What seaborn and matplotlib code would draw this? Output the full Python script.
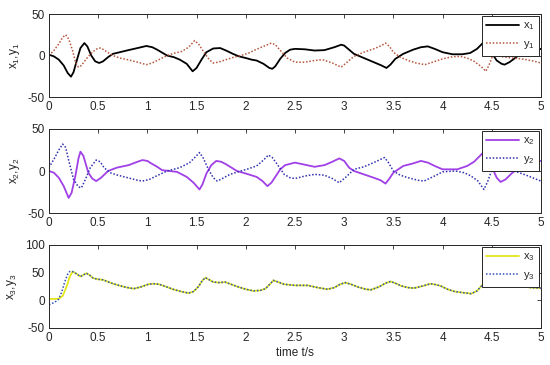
import matplotlib
matplotlib.use("Agg")
import matplotlib.pyplot as plt
import seaborn as sns
import pandas as pd

# ---- data ----
t_x1 = [0, 0.05, 0.1, 0.15, 0.19, 0.224, 0.25, 0.29, 0.32, 0.36, 0.39, 0.43, 0.47, 0.51, 0.55, 0.6,
        0.65, 0.72, 0.79, 0.9, 0.99, 1.05, 1.1, 1.2, 1.27, 1.33, 1.4, 1.46, 1.5, 1.55, 1.6, 1.67,
        1.74, 1.8, 1.87, 1.93, 2.0, 2.06, 2.11, 2.18, 2.24, 2.27, 2.3, 2.35, 2.4, 2.45, 2.5, 2.6,
        2.7, 2.8, 2.9, 2.97, 3.0, 3.05, 3.1, 3.2, 3.3, 3.38, 3.43, 3.47, 3.52, 3.6, 3.7, 3.78,
        3.85, 3.92, 4.0, 4.1, 4.2, 4.28, 4.35, 4.4, 4.43, 4.46, 4.5, 4.55, 4.6, 4.63, 4.68, 4.76,
        4.85, 4.92, 5.0]
x1 = [1, -1, -5, -12, -21, -25.5, -20, -3, 9, 15, 11, 0, -7, -9, -7, -2,
      2, 4, 6, 9, 11.5, 10, 7, 0, -2, -5, -10, -19, -15, -5, 4, 8.5,
      9, 6, 2, -1, -3, -5, -6, -10, -15, -16, -13, -4, 3, 7, 8, 7.5,
      6, 6.5, 10, 13, 12, 7, 2, -3, -8, -12, -15, -11, -4, 2, 7, 10,
      11, 8, 4, 1.5, 1.5, 3, 8, 14, 18, 14, 3, -6, -10, -11, -8, -1,
      4, 6, 8]

t_y1 = [0, 0.05, 0.1, 0.14, 0.17, 0.2, 0.24, 0.27, 0.3, 0.33, 0.38, 0.44, 0.5, 0.53, 0.58, 0.65,
        0.72, 0.8, 0.9, 0.99, 1.05, 1.1, 1.2, 1.28, 1.35, 1.42, 1.48, 1.52, 1.58, 1.63, 1.67, 1.72,
        1.8, 1.88, 1.95, 2.03, 2.1, 2.18, 2.26, 2.3, 2.36, 2.42, 2.5, 2.6, 2.7, 2.78, 2.88, 2.97,
        3.03, 3.1, 3.2, 3.3, 3.38, 3.42, 3.46, 3.5, 3.57, 3.65, 3.73, 3.82, 3.9, 4.0, 4.1, 4.18,
        4.25, 4.32, 4.39, 4.44, 4.47, 4.5, 4.53, 4.58, 4.7, 4.8, 4.9, 5.0]
y1 = [0, 6, 14, 22, 25, 20, 6, -8, -14, -12, -4, 4, 9, 9, 5, 0,
      -3, -5, -8, -11, -9, -6, 0, 3, 5, 10, 18, 14, 3, -5, -9, -8,
      -5, -2, 0, 3, 7, 11, 15, 13, 5, -3, -8, -8, -6, -5, -9, -14,
      -8, -1, 4, 8, 12, 15, 11, 4, -2, -6, -9, -11, -8, -4, -1.5, -1,
      -3, -7, -13, -19, -12, -3, 2, -1, -3, -4, -6, -9]

t_x2 = [0, 0.05, 0.1, 0.15, 0.2, 0.23, 0.27, 0.3, 0.32, 0.35, 0.4, 0.44, 0.48, 0.53, 0.6, 0.69,
        0.81, 0.9, 0.95, 1.0, 1.04, 1.1, 1.15, 1.3, 1.4, 1.47, 1.53, 1.56, 1.6, 1.65, 1.7, 1.75,
        1.8, 1.91, 2.0, 2.11, 2.17, 2.22, 2.26, 2.3, 2.35, 2.4, 2.5, 2.6, 2.7, 2.8, 2.88, 2.95,
        3.0, 3.05, 3.1, 3.2, 3.3, 3.37, 3.42, 3.46, 3.5, 3.6, 3.7, 3.78, 3.85, 3.92, 4.0, 4.15,
        4.25, 4.32, 4.38, 4.42, 4.46, 4.5, 4.55, 4.59, 4.64, 4.71, 4.8, 4.9, 5.0]
x2 = [0, -2, -8, -18, -32, -26, -5, 15, 23, 18, -2, -9, -12, -8, 0, 4,
      7, 11, 13, 12, 9, 5, 1, -1, -7, -14, -22, -16, -3, 7, 12, 11,
      8, 0, -3, -7, -12, -18, -14, -7, 2, 7, 10, 7.5, 5, 7, 11, 15,
      12, 4, 0, -4, -8, -11, -15, -9, -2, 6, 9, 12, 10, 6, 2, 2,
      6, 11, 18, 23, 17, 5, -8, -13, -10, -2, 5, 10, 12]

t_y2 = [0, 0.06, 0.1, 0.14, 0.17, 0.2, 0.25, 0.3, 0.33, 0.37, 0.42, 0.48, 0.52, 0.56, 0.62, 0.7,
        0.8, 0.9, 0.95, 1.02, 1.09, 1.2, 1.33, 1.43, 1.49, 1.53, 1.57, 1.62, 1.67, 1.71, 1.76, 1.84,
        1.92, 2.01, 2.11, 2.18, 2.23, 2.27, 2.32, 2.39, 2.45, 2.5, 2.6, 2.7, 2.8, 2.88, 2.95, 3.02,
        3.1, 3.2, 3.3, 3.41, 3.45, 3.5, 3.57, 3.65, 3.75, 3.81, 3.9, 4.0, 4.13, 4.22, 4.29, 4.36,
        4.42, 4.46, 4.49, 4.53, 4.6, 4.73, 4.85, 5.0]
y2 = [4, 16, 25, 32, 28, 13, -10, -19, -20, -10, 4, 13, 11, 4, -2, -5,
      -8, -11, -12, -10, -6, 0, 4, 10, 17, 22, 15, 2, -8, -12, -9, -4,
      -1, 2, 6, 13, 19, 16, 8, -4, -8, -9, -6, -4, -5, -9, -14, -7,
      2, 5, 10, 16, 10, 0, -5, -8, -11, -12, -7, -1, 0, -2, -6, -12,
      -22, -12, -2, 6, 3, 0, -5, -12]

t_x3 = [0, 0.05, 0.1, 0.14, 0.18, 0.21, 0.24, 0.28, 0.32, 0.35, 0.38, 0.41, 0.45, 0.5, 0.55, 0.62,
        0.69, 0.77, 0.86, 0.93, 1.01, 1.06, 1.12, 1.2, 1.26, 1.34, 1.42, 1.47, 1.52, 1.56, 1.59, 1.63,
        1.67, 1.73, 1.79, 1.85, 1.91, 2.0, 2.08, 2.15, 2.2, 2.25, 2.28, 2.33, 2.39, 2.5, 2.63, 2.73,
        2.83, 2.9, 2.96, 3.01, 3.07, 3.14, 3.22, 3.27, 3.35, 3.42, 3.47, 3.52, 3.58, 3.65, 3.71, 3.8,
        3.88, 3.94, 3.98, 4.05, 4.12, 4.2, 4.29, 4.35, 4.4, 4.43, 4.47, 4.52, 4.6, 4.7, 4.8, 4.9,
        5.0]
x3 = [2.5, 2.5, 3, 8, 25, 42, 52, 48, 43, 46, 49, 46, 40, 38, 37, 32,
      28, 24, 21, 24, 29, 30, 29, 24, 20, 16, 13, 16, 25, 36, 41, 37,
      33, 32, 33, 29, 25, 20, 17, 18, 21, 30, 36, 33, 29, 27, 27, 23,
      20, 23, 29, 32, 29, 24, 20, 19, 24, 31, 34, 31, 26, 23, 22, 26,
      30, 28, 26, 20, 16, 14, 12, 17, 27, 34, 40, 38, 33, 28, 25, 23,
      22]

t_y3 = [0, 0.04, 0.08, 0.1, 0.13, 0.16, 0.19, 0.21, 0.24, 0.28, 0.32, 0.35, 0.38, 0.41, 0.45, 0.5,
        0.55, 0.62, 0.69, 0.77, 0.86, 0.93, 1.01, 1.06, 1.12, 1.2, 1.26, 1.34, 1.42, 1.47, 1.52, 1.56,
        1.59, 1.63, 1.67, 1.73, 1.79, 1.85, 1.91, 2.0, 2.08, 2.15, 2.2, 2.25, 2.28, 2.33, 2.39, 2.5,
        2.63, 2.73, 2.83, 2.9, 2.96, 3.01, 3.07, 3.14, 3.22, 3.27, 3.35, 3.42, 3.47, 3.52, 3.58, 3.65,
        3.71, 3.8, 3.88, 3.94, 3.98, 4.05, 4.12, 4.2, 4.29, 4.35, 4.4, 4.43, 4.47, 4.52, 4.6, 4.7,
        4.8, 4.9, 5.0]
y3 = [-8, -5, -1, 2.5, 15, 33, 47, 52, 52, 48, 43, 46, 49, 46, 40, 38,
      37, 32, 28, 24, 21, 24, 29, 30, 29, 24, 20, 16, 13, 16, 25, 36,
      41, 37, 33, 32, 33, 29, 25, 20, 17, 18, 21, 30, 36, 33, 29, 27,
      27, 23, 20, 23, 29, 32, 29, 24, 20, 19, 24, 31, 34, 31, 26, 23,
      22, 26, 30, 28, 26, 20, 16, 14, 12, 17, 27, 34, 40, 38, 33, 28,
      25, 23, 22]

x_ticks = [0, 0.5, 1, 1.5, 2, 2.5, 3, 3.5, 4, 4.5, 5]
x_tick_labels = ["0", "0.5", "1", "1.5", "2", "2.5", "3", "3.5", "4", "4.5", "5"]

sns.set_style("white")
plt.rcParams['font.family'] = ['Liberation Sans', 'DejaVu Sans']
plt.rcParams['mathtext.default'] = 'regular'
plt.rcParams['font.size'] = 8

fig = plt.figure(figsize=(5.5, 3.65), dpi=100)

panels = [
    (t_x1, x1, t_y1, y1, "#000000", "#b5563c", "x$_1$", "y$_1$", [-50, 0, 50], [0.089, 0.7342, 0.8946, 0.2274]),
    (t_x2, x2, t_y2, y2, "#a040e6", "#3030b0", "x$_2$", "y$_2$", [-50, 0, 50], [0.089, 0.4164, 0.8946, 0.2302]),
    (t_x3, x3, t_y3, y3, "#e3e61a", "#3050b8", "x$_3$", "y$_3$", [-50, 0, 50, 100], [0.089, 0.1014, 0.8946, 0.2274]),
]

for tx, xv, ty, yv, cx, cy, lx, ly, yt, rect in panels:
    ax = fig.add_axes(rect)
    df_x = pd.DataFrame({"t": tx, "v": xv})
    df_y = pd.DataFrame({"t": ty, "v": yv})
    sns.lineplot(data=df_x, x="t", y="v", ax=ax, color=cx, lw=1.3, label=lx)
    sns.lineplot(data=df_y, x="t", y="v", ax=ax, color=cy, lw=1.1, ls=(0, (1, 1.2)), label=ly)
    ax.set_xlim(0, 5)
    ax.set_ylim(yt[0], yt[-1])
    ax.set_yticks(yt)
    ax.set_yticklabels([str(v) for v in yt])
    ax.set_xticks(x_ticks)
    ax.set_xticklabels(x_tick_labels)
    ax.set_xlabel("")
    ax.set_ylabel(lx + "," + ly, fontsize=8.5, color="#262626", labelpad=4)
    ax.tick_params(direction="in", length=3, width=0.6, top=True, right=True,
                   colors="#262626", labelsize=8.5, pad=3)
    for s in ax.spines.values():
        s.set_color("#262626")
        s.set_linewidth(0.7)
    leg = ax.legend(loc="upper right", fontsize=8, frameon=True, fancybox=False,
                    handlelength=3.0, borderaxespad=0.2, borderpad=0.4,
                    labelspacing=0.6, handletextpad=0.3)
    leg.get_frame().set_edgecolor("#262626")
    leg.get_frame().set_linewidth(0.7)
    leg.get_frame().set_alpha(1)
    for txt in leg.get_texts():
        txt.set_color("#262626")

fig.axes[-1].set_xlabel("time t/s", fontsize=8.5, color="#262626", labelpad=2)

fig.savefig("out.png", dpi=100)
